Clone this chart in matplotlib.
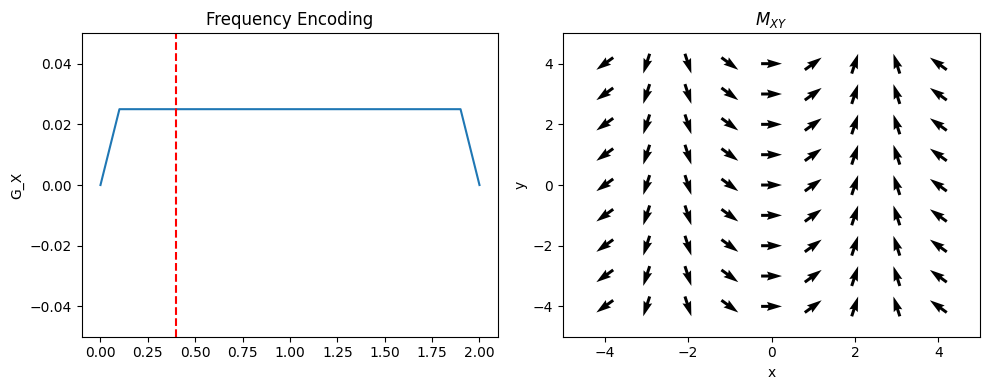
import numpy as np
import matplotlib.pyplot as plt

# gradient waveform
t = [0.0, 0.1, 1.9, 2.0]
g_x = [0.0, 0.025, 0.025, 0.0]
t_mark = 0.4

# magnetisation phase per x column (degrees)
x_pos = [-4, -3, -2, -1, 0, 1, 2, 3, 4]
y_pos = [-4, -3, -2, -1, 0, 1, 2, 3, 4]
phase_deg = [216, 252, 288, 324, 0, 36, 72, 108, 144]

fig, (ax1, ax2) = plt.subplots(1, 2, figsize=(10, 4), dpi=100)

ax1.plot(t, g_x)
ax1.axvline(t_mark, color='r', linestyle='--')
ax1.set_ylim(-0.05, 0.05)
ax1.set_ylabel('G_X')
ax1.set_title('Frequency Encoding')

X, Y = np.meshgrid(x_pos, y_pos)
ph = np.deg2rad(np.array(phase_deg))
U = np.tile(np.cos(ph), (len(y_pos), 1))
V = np.tile(np.sin(ph), (len(y_pos), 1))
ax2.quiver(X, Y, U, V, pivot='mid', units='width', width=0.0072,
           scale=20, scale_units='width')
ax2.set_xlim(-5, 5)
ax2.set_ylim(-5, 5)
ax2.set_xlabel('x')
ax2.set_ylabel('y')
ax2.set_title('$M_{XY}$')

plt.tight_layout()
plt.savefig('out.png', bbox_inches='tight')
